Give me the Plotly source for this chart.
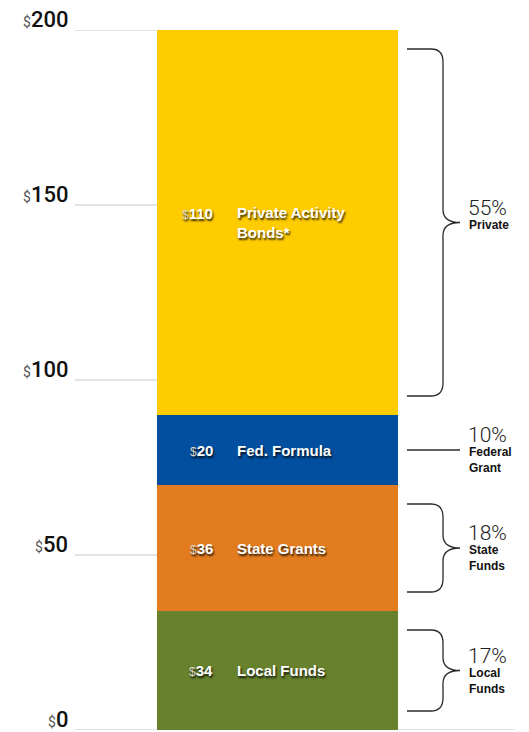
import numpy as np
import plotly.graph_objects as go

# data
segments = ["Local Funds", "State Grants", "Fed. Formula", "Private Activity<br>Bonds*"]
amounts = [34, 36, 20, 110]
colors = ["#67812C", "#E27C1F", "#024F9F", "#FFCC00"]
shares = ["17%", "18%", "10%", "55%"]
share_labels = ["Local<br>Funds", "State<br>Funds", "Federal<br>Grant", "Private"]
share_style = ["brace", "brace", "line", "brace"]
tick_vals = [0, 50, 100, 150, 200]

# page body has an 8px margin, so the figure is sized to fit inside it
OFF = 8
W, H = 529 - OFF, 732 - OFF
TOP, BOT = 30 - OFF, 2
PX = (H - TOP - BOT) / 200.0  # pixels per dollar
BAR_L, BAR_R = 157, 398
FONT = "Liberation Sans, Arial, sans-serif"
INK = "#2b2b2b"

bases = np.concatenate([[0], np.cumsum(amounts)[:-1]])
tops = bases + np.array(amounts)
mids = (bases + tops) / 2

fig = go.Figure()
for name, amt, col in zip(segments, amounts, colors):
    fig.add_trace(go.Bar(
        x=[(BAR_L + BAR_R) / 2], y=[amt], width=[BAR_R - BAR_L],
        marker=dict(color=col, line=dict(width=0)), name=name,
        hoverinfo="skip", showlegend=False,
    ))

shapes = []
annotations = []

# gridlines left of the bar, baseline across
for v in tick_vals:
    x1 = 515 if v == 0 else BAR_L
    shapes.append(dict(type="line", xref="x", yref="y", x0=75, x1=x1, y0=v, y1=v,
                       line=dict(color="#c8c8c8", width=1), layer="below"))
    annotations.append(dict(
        x=70, y=v, xref="x", yref="y", xanchor="right", yanchor="bottom",
        yshift=-4, showarrow=False,
        text=f"<span style='font-size:14px;color:#555;font-weight:normal'>$</span>{v}",
        font=dict(family="Roboto, sans-serif", size=22, color="#111", weight=500),
    ))

shadow = "1px 2px 2px rgba(0,0,0,0.8)"
for name, amt, mid in zip(segments, amounts, mids):
    shift = 9 if "<br>" in name else 0
    annotations.append(dict(
        x=215, y=mid, xref="x", yref="y", xanchor="right", yanchor="middle",
        yshift=shift, showarrow=False,
        text=f"<span style='font-size:12px;color:#ddd6c0;font-weight:normal'>$</span><b>{amt}</b>",
        font=dict(family=FONT, size=15, color="white", shadow=shadow),
    ))
    annotations.append(dict(
        x=235, y=mid, xref="x", yref="y", xanchor="left", yanchor="middle",
        showarrow=False, align="left", text=f"<b>{name}</b>",
        font=dict(family=FONT, size=15, color="white", shadow=shadow),
    ))

# braces / connector lines with share labels
inset = 19 / PX
r = 13 / PX
x0, xv, xt = 407, 443, 460
for base, top, mid, style, pct, lab in zip(bases, tops, mids, share_style, shares, share_labels):
    if style == "line":
        shapes.append(dict(type="line", xref="x", yref="y", x0=x0, x1=xt, y0=mid, y1=mid,
                           line=dict(color=INK, width=1.3)))
    else:
        yt, yb = top - inset, base + inset
        path = (f"M {x0},{yt} L {xv-12},{yt} Q {xv},{yt} {xv},{yt-r} "
                f"L {xv},{mid+r} Q {xv},{mid} {xt},{mid} "
                f"Q {xv},{mid} {xv},{mid-r} L {xv},{yb+r} "
                f"Q {xv},{yb} {xv-12},{yb} L {x0},{yb}")
        shapes.append(dict(type="path", xref="x", yref="y", path=path,
                           line=dict(color=INK, width=1.3)))
    annotations.append(dict(
        x=466, y=mid, xref="x", yref="y", xanchor="left", yanchor="middle",
        yshift=15, showarrow=False, text=pct,
        font=dict(family="Roboto, sans-serif", size=21, color="#222", weight=300),
    ))
    annotations.append(dict(
        x=467, y=mid, xref="x", yref="y", xanchor="left", yanchor="top",
        yshift=7, showarrow=False, align="left", text=f"<b>{lab}</b>",
        font=dict(family=FONT, size=12, color="#111"),
    ))

fig.update_layout(
    width=W, height=H, barmode="stack",
    margin=dict(l=0, r=0, t=TOP, b=BOT),
    paper_bgcolor="white", plot_bgcolor="white",
    xaxis=dict(range=[OFF, W + OFF], visible=False, fixedrange=True),
    yaxis=dict(range=[0, 200], visible=False, fixedrange=True),
    shapes=shapes, annotations=annotations, bargap=0,
)

fig.write_html("out.html")
